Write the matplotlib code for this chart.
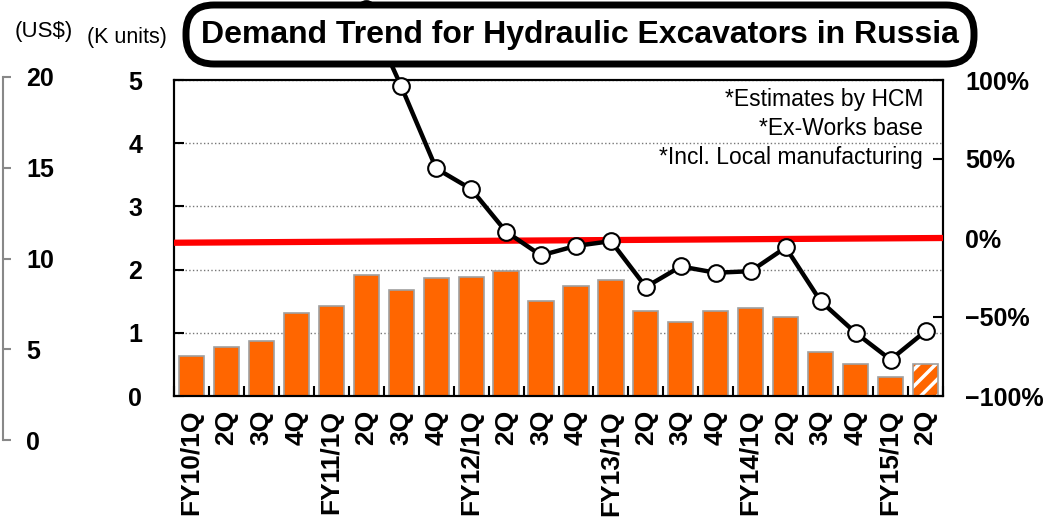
import numpy as np
import matplotlib
matplotlib.use("Agg")
import matplotlib.pyplot as plt
from matplotlib.patches import FancyBboxPatch
from matplotlib.transforms import IdentityTransform

plt.rcParams['font.family'] = ['Liberation Sans', 'DejaVu Sans']
plt.rcParams['hatch.linewidth'] = 2.5

# Daten
quartale = ['FY10/1Q', '2Q', '3Q', '4Q',
            'FY11/1Q', '2Q', '3Q', '4Q',
            'FY12/1Q', '2Q', '3Q', '4Q',
            'FY13/1Q', '2Q', '3Q', '4Q',
            'FY14/1Q', '2Q', '3Q', '4Q',
            'FY15/1Q', '2Q']
einheiten = [0.63, 0.78, 0.87, 1.32, 1.43, 1.91, 1.68, 1.86, 1.88, 1.98, 1.50,
             1.74, 1.83, 1.34, 1.17, 1.34, 1.40, 1.25, 0.69, 0.51, 0.30, 0.51]
# Veraenderung zum Vorjahr in %, erste Werte liegen ausserhalb des Bildes
vorjahr = [np.nan, np.nan, np.nan, np.nan, np.nan, 145, 96, 44, 31, 4, -11,
           -5, -2, -31, -18, -22, -21, -6, -40, -60, -77, -59]
geschaetzt = [False] * 21 + [True]
nulllinie = [-3, 0]   # rote 0%-Linie, leicht schief wie im Original

links_ticks = [0, 5, 10, 15, 20]
einheit_ticks = [0, 1, 2, 3, 4, 5]
prozent_ticks = [-100, -50, 0, 50, 100]
hinweise = ['*Estimates by HCM', '*Ex-Works base', '*Incl. Local manufacturing']

orange = '#ff6600'
B, H = 1048, 525

fig = plt.figure(figsize=(B / 100, H / 100), dpi=100)

# Rest der linken Grafik (abgeschnitten)
ax0 = fig.add_axes([3 / B, 1 - 440 / H, 8 / B, 363 / H])
ax0.set_ylim(0, 20)
ax0.set_xticks([])
ax0.set_yticks(links_ticks)
for s in ['top', 'right', 'bottom']:
    ax0.spines[s].set_visible(False)
ax0.spines['left'].set_color('#888888')
ax0.spines['left'].set_linewidth(1.5)
ax0.patch.set_alpha(0)
ax0.tick_params(axis='y', left=True, right=False, labelleft=False, labelright=True,
                direction='in', length=6, width=1.5, color='#888888', pad=11,
                labelsize=18)
for t in ax0.get_yticklabels():
    t.set_fontweight('bold')

# Hauptgrafik
ax = fig.add_axes([174 / B, 1 - 396 / H, 769 / B, 316 / H])
x = np.arange(len(quartale))
g = np.array(geschaetzt)
e = np.array(einheiten)
ax.bar(x[~g], e[~g], width=0.72, color=orange, edgecolor='#a0a0a0',
       linewidth=1.2, zorder=2)
ax.bar(x[g], e[g], width=0.72, color=orange, edgecolor='white', hatch='//',
       linewidth=0, zorder=2)
ax.bar(x[g], e[g], width=0.72, fill=False, edgecolor='#a0a0a0', linewidth=1.2,
       zorder=3)

ax.set_xlim(-0.5, len(quartale) - 0.5)
ax.set_ylim(0, 5)
ax.set_yticks(einheit_ticks)
ax.yaxis.grid(True, linestyle=':', color='#777777', linewidth=1)
ax.set_axisbelow(True)
ax.set_xticks(x)
ax.set_xticklabels(quartale, rotation=90, fontsize=19, fontweight='bold')
ax.set_xticks(np.arange(-0.5, len(quartale)), minor=True)
ax.tick_params(axis='x', which='major', length=0, pad=10)
ax.tick_params(axis='x', which='minor', direction='in', length=7, width=1.5)
ax.tick_params(axis='y', direction='in', length=7, width=1.5, pad=23, labelsize=18)
for t in ax.get_yticklabels():
    t.set_fontweight('bold')
for s in ax.spines.values():
    s.set_linewidth(1.5)

ax2 = ax.twinx()
ax2.set_ylim(-100, 100)
ax2.set_yticks(prozent_ticks)
ax2.set_yticklabels([('%d%%' % v).replace('-', '\u2212') for v in prozent_ticks],
                    fontsize=18, fontweight='bold')
ax2.tick_params(axis='y', direction='in', length=7, width=1.5, pad=16)
ax2.plot([0, 1], nulllinie, color='red', linewidth=4.5,
         transform=ax2.get_yaxis_transform(), zorder=3)
ax2.plot(x, vorjahr, color='black', linewidth=3.2, marker='o', markersize=12,
         markerfacecolor='white', markeredgecolor='black', markeredgewidth=1.5,
         clip_on=False, zorder=4)
for s in ax2.spines.values():
    s.set_linewidth(1.5)

hy = [0.937, 0.848, 0.756]
for t, yy in zip(hinweise, hy):
    ax2.text(0.974, yy, t, transform=ax.transAxes, ha='right', va='center',
             fontsize=16.5)

fig.text(15 / B, 1 - 31 / H, '(US$)', fontsize=16, ha='left', va='center')
fig.text(87 / B, 1 - 37 / H, '(K units)', fontsize=15.5, ha='left', va='center')

# Titel mit abgerundetem Rahmen
rahmen = FancyBboxPatch((186, H - 64), 788, 59,
                        boxstyle='round,pad=0,rounding_size=28',
                        transform=IdentityTransform(), facecolor='white',
                        edgecolor='black', linewidth=5, zorder=10)
fig.patches.append(rahmen)
fig.text(580 / B, 1 - 35 / H, 'Demand Trend for Hydraulic Excavators in Russia',
         fontsize=23, fontweight='bold', ha='center', va='center', zorder=11)

fig.savefig('out.png', dpi=100)
